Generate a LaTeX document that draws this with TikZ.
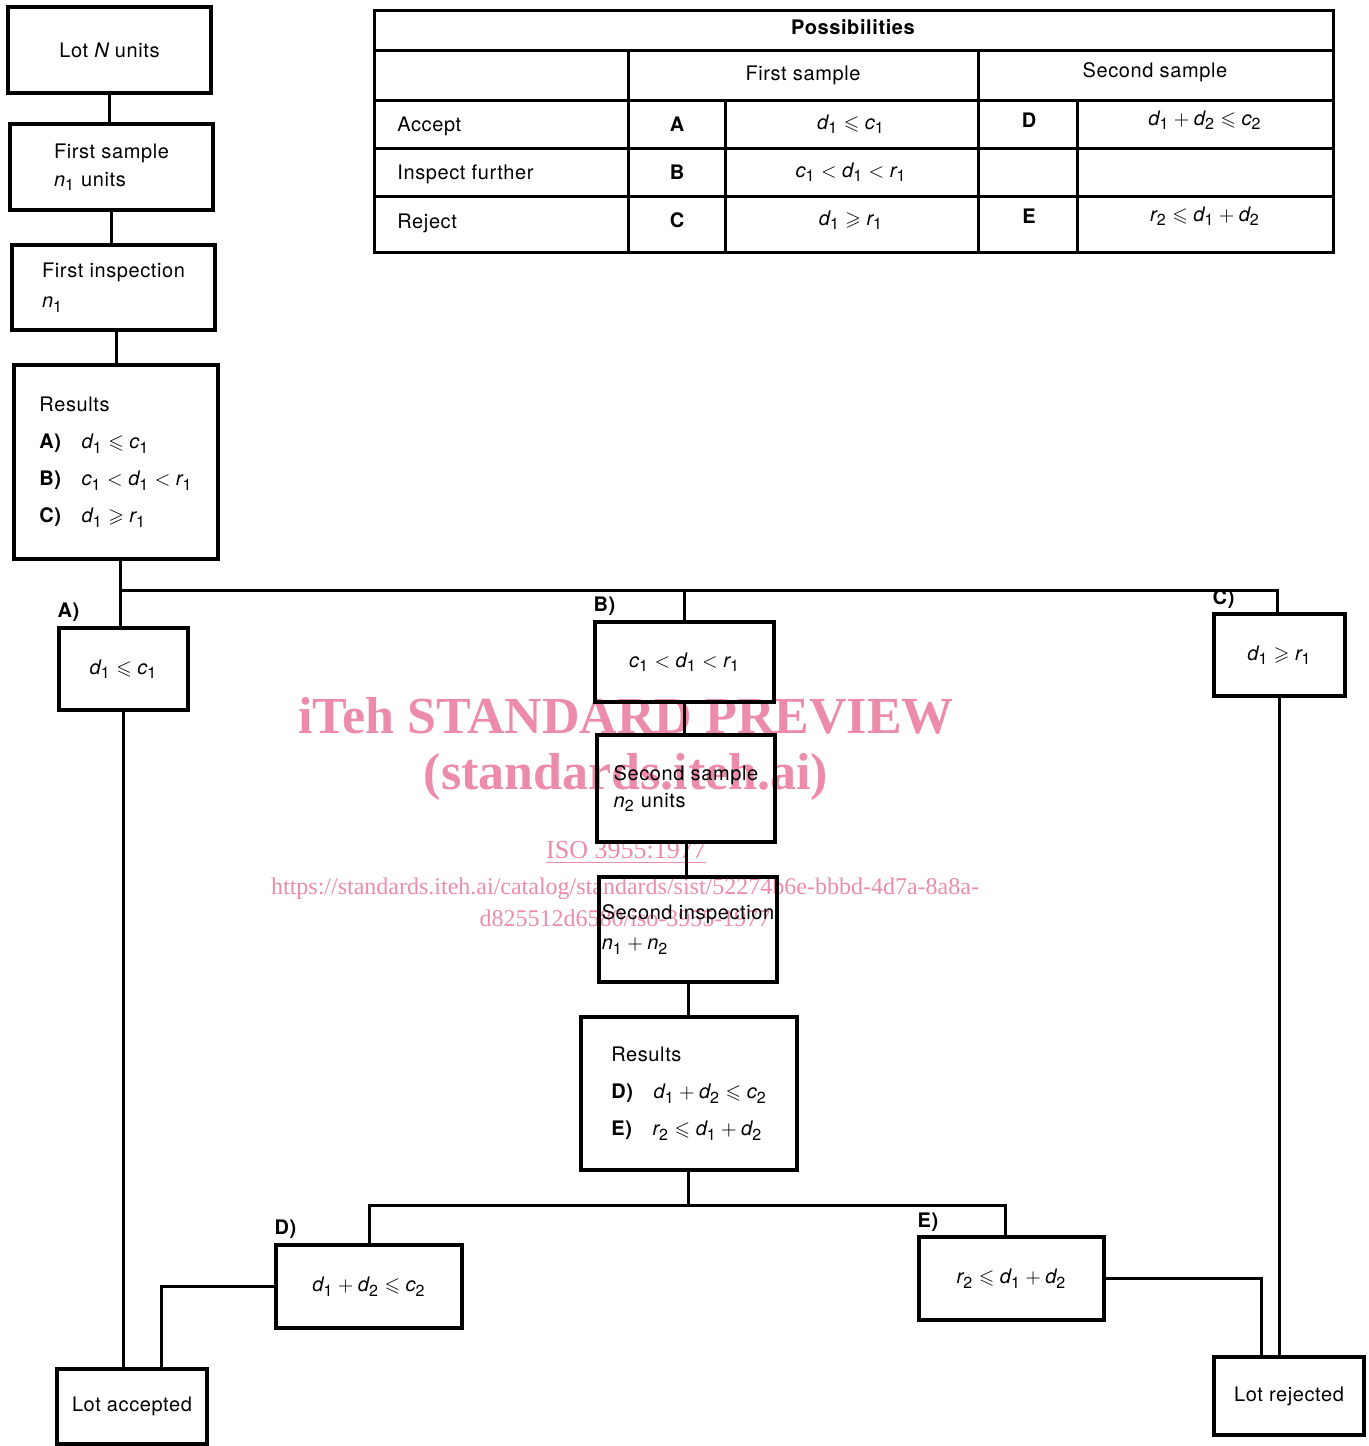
\documentclass[tikz,border=0pt]{standalone}
\usepackage{amssymb}
\usepackage{fontspec}
\setmainfont{TeX Gyre Heros}[LetterSpace=3]
\newfontfamily\wmfont{Liberation Serif}
\usetikzlibrary{positioning}
\DeclareMathSizes{10}{10}{8}{6}
\definecolor{wmpink}{RGB}{236,140,170}
\newcommand{\vr}[1]{\mathit{#1}}
\newcommand{\dI}{\vr{d}_{\mathrm{1}}}
\newcommand{\dII}{\vr{d}_{\mathrm{2}}}
\newcommand{\cI}{\vr{c}_{\mathrm{1}}}
\newcommand{\cII}{\vr{c}_{\mathrm{2}}}
\newcommand{\rI}{\vr{r}_{\mathrm{1}}}
\newcommand{\rII}{\vr{r}_{\mathrm{2}}}
\newcommand{\nI}{\vr{n}_{\mathrm{1}}}
\newcommand{\nII}{\vr{n}_{\mathrm{2}}}

\begin{document}
\begin{tikzpicture}[x=0.5pt,y=-0.5pt,
		box/.style 2 args={draw, line width=1.7pt, minimum width=#1, minimum height=#2,
			inner sep=0pt, align=left, font=\fontsize{10}{12}\selectfont},
		link/.style={line width=1.5pt},
		tline/.style={line width=1.5pt},
		lbl/.style={inner sep=0pt, font=\bfseries\fontsize{10}{12}\selectfont},
		cell/.style={inner sep=0pt, font=\fontsize{10}{12}\selectfont},
		wm/.style={text=wmpink, inner sep=0pt}]
		\useasboundingbox (0,0) rectangle (1369,1446);
		% watermark
		\node [wm, font=\wmfont\bfseries\fontsize{26}{28}\selectfont] (W1) at (626,716) 
			{iTeh STANDARD PREVIEW};
		\node [wm, font=\wmfont\bfseries\fontsize{26}{28}\selectfont] (W2) at (626,777) 
			{(standards.iteh.ai)};
		\node [wm, font=\wmfont\fontsize{13}{15}\selectfont] (W3) at (626,853) 
			{\underline{ISO 3955:1977}};
		\node [wm, font=\wmfont\fontsize{12}{16}\selectfont, align=center] (W4) at (625,902) 
			{https://standards.iteh.ai/catalog/standards/sist/52274b6e-bbbd-4d7a-8a8a-\\d825512d6580/iso-3955-1977};
		% first sampling
		\node [box={101.5pt}{43pt}] (LN) at (109.5,50) 
			{Lot $\vr{N}$ units};
		\node [box={101.5pt}{43pt}] (FS) at (111.5,167) 
			{First sample\\[2pt]$\nI$ units};
		\node [box={101.5pt}{42.5pt}] (FI) at (113.5,287.5) 
			{First inspection\\[3pt]$\nI$};
		\node [box={102pt}{97pt}] (FR) at (116,462) 
			{Results\\[6.5pt]\textbf{A)}\quad$\dI\leqslant\cI$\\[6.5pt]\textbf{B)}\quad$\cI<\dI<\rI$\\[6.5pt]\textbf{C)}\quad$\dI\geqslant\rI$};
		\node [box={64.5pt}{41pt}, align=center] (A) at (123.5,669) 
			{$\dI\leqslant\cI$};
		\node [box={89.5pt}{40pt}, align=center] (B) at (684.5,662) 
			{$\cI<\dI<\rI$};
		\node [box={65.5pt}{41pt}, align=center] (C) at (1279.5,655) 
			{$\dI\geqslant\rI$};
		% second sampling
		\node [box={89pt}{53.5pt}] (SS) at (686,788.5) 
			{Second sample\\[1.5pt]$\nII$ units};
		\node [box={89pt}{52.5pt}] (SI) at (688,929.5) 
			{Second inspection\\[3pt]$\nI+\nII$};
		\node [box={108pt}{76.5pt}] (SR) at (689,1093.5) 
			{Results\\[6.5pt]\textbf{D)}\quad$\dI+\dII\leqslant\cII$\\[6.5pt]\textbf{E)}\quad$\rII\leqslant\dI+\dII$};
		\node [box={93pt}{41.5pt}, align=center] (D) at (369,1286.5) 
			{$\dI+\dII\leqslant\cII$};
		\node [box={92.5pt}{41.5pt}, align=center] (E) at (1011.5,1278.5) 
			{$\rII\leqslant\dI+\dII$};
		\node [box={75pt}{37.5pt}, align=center] (LA) at (132,1406.5) 
			{Lot accepted};
		\node [box={75pt}{39pt}, align=center] (LR) at (1289,1396) 
			{Lot rejected};
		% branch labels
		\node [lbl, above right=2pt and 0pt of A.north west] (LblA) {A)};
		\node [lbl, above right=2pt and 0pt of B.north west] (LblB) {B)};
		\node [lbl, above right=1.5pt and 0pt of C.north west] (LblC) {C)};
		\node [lbl, above right=2pt and 0pt of D.north west] (LblD) {D)};
		\node [lbl, above right=1.5pt and 0pt of E.north west] (LblE) {E)};
		% connectors
		\coordinate (S1) at (120,590);
		\coordinate (S2) at (688,1205);
		\draw [link] (LN.south) -- (LN.south |- FS.north);
		\draw [link] (FS.south) -- (FS.south |- FI.north);
		\draw [link] ([xshift=1.5pt]FI.south) -- ([xshift=1.5pt]FI.south |- FR.north);
		\draw [link] (FR.south -| S1) -- (A.north -| S1);
		\draw [link] (S1) -| ([xshift=-1pt]C.north);
		\draw [link] (S1 -| B.north) -- (B.north);
		\draw [link] (A.south) -- (A.south |- LA.north);
		\draw [link] (B.south) -- (B.south |- SS.north);
		\draw [link] (SS.south) -- (SS.south |- SI.north);
		\draw [link] (SI.south) -- (SI.south |- SR.north);
		\draw [link] (SR.south -| S2) -- (S2);
		\draw [link] (D.north) -- (D.north |- S2) -- ([xshift=-3.25pt]E.north |- S2) -- ([xshift=-3.25pt]E.north);
		\draw [link] (D.west) -| ([xshift=14.5pt]LA.north);
		\draw [link] (E.east) -| ([xshift=-14pt]LR.north);
		\draw [link] (C.south) -- (C.south |- LR.north);
		% table of possibilities
		\draw [tline] (374,10) rectangle (1333,252);
		\draw [tline] (374,50) -- (1333,50);
		\draw [tline] (374,100) -- (1333,100);
		\draw [tline] (374,148) -- (1333,148);
		\draw [tline] (374,196) -- (1333,196);
		\draw [tline] (628,50) -- (628,252);
		\draw [tline] (978,50) -- (978,252);
		\draw [tline] (725,100) -- (725,252);
		\draw [tline] (1077,100) -- (1077,252);
		\node [lbl] (Poss) at (853,27) {Possibilities};
		\node [cell] (FSh) at (803,75) {First sample};
		\node [cell] (SSh) at (1155,72) {Second sample};
		\node [cell, anchor=west] (Acc) at (397,126) {Accept};
		\node [cell, anchor=west] (Insp) at (397,174) {Inspect further};
		\node [cell, anchor=west] (Rej) at (397,223) {Reject};
		\node [lbl] (KA) at (677,124) {A};
		\node [lbl] (KB) at (677,172) {B};
		\node [lbl] (KC) at (677,220) {C};
		\node [cell] (VA) at (851,124) {$\dI\leqslant\cI$};
		\node [cell] (VB) at (851,172) {$\cI<\dI<\rI$};
		\node [cell] (VC) at (851,220) {$\dI\geqslant\rI$};
		\node [lbl] (KD) at (1029,120) {D};
		\node [lbl] (KE) at (1029,216) {E};
		\node [cell] (VD) at (1205,120) {$\dI+\dII\leqslant\cII$};
		\node [cell] (VE) at (1205,216) {$\rII\leqslant\dI+\dII$};
\end{tikzpicture}
\end{document}
